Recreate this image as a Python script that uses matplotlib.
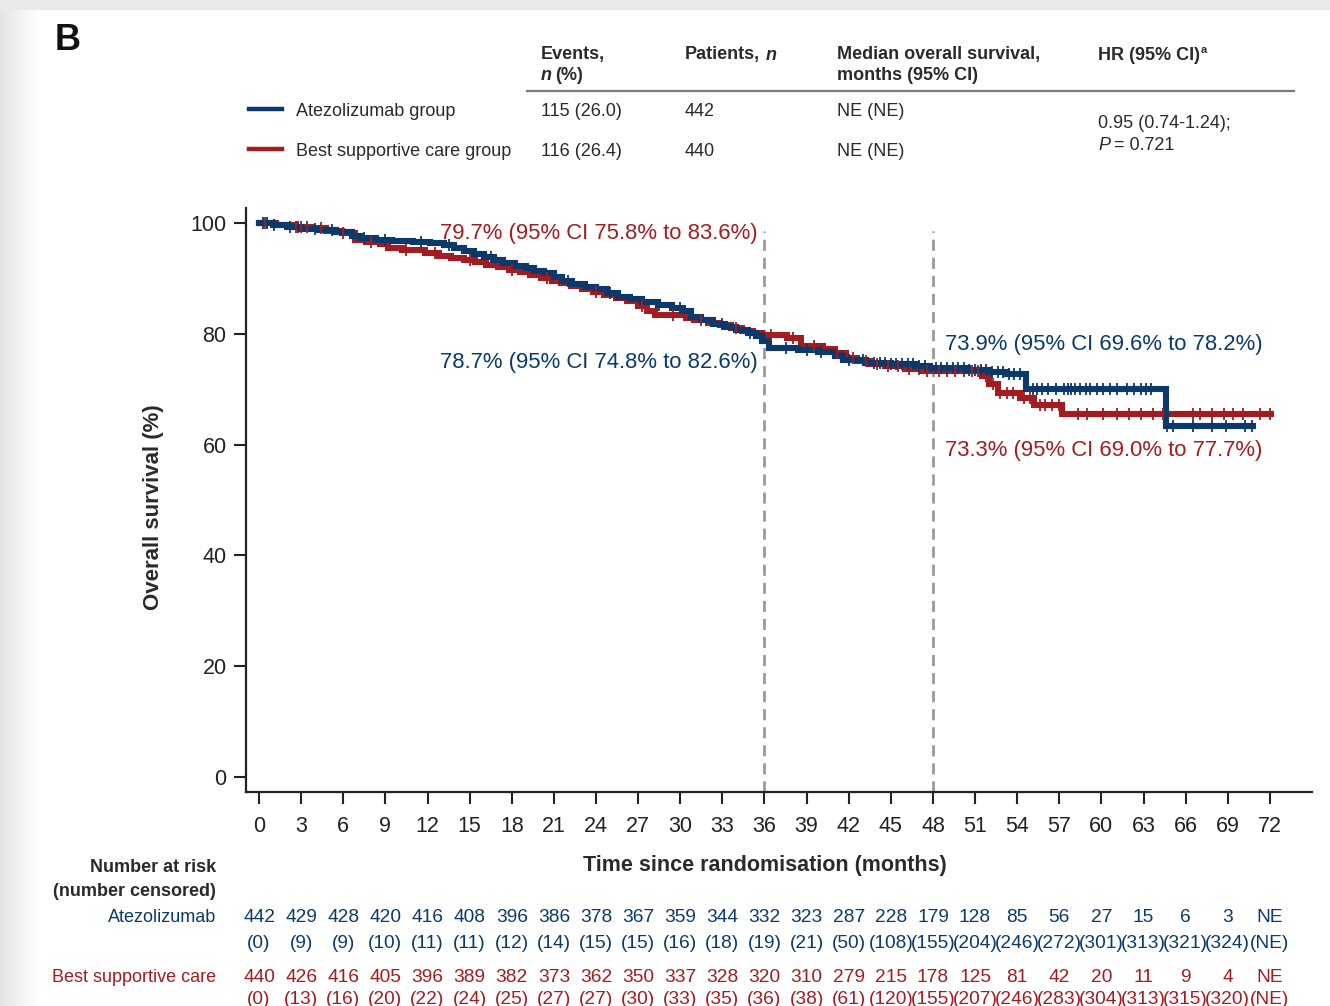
import numpy as np
import matplotlib
matplotlib.use("Agg")
import matplotlib.pyplot as plt
from matplotlib.transforms import blended_transform_factory
from matplotlib.lines import Line2D

plt.rcParams['font.family'] = ['Liberation Sans', 'DejaVu Sans']

BLUE = '#0b3a6a'
RED = '#a11d22'
TXT = '#2a2a2a'

# Kaplan-Meier step points (months, % surviving)
t_atezo = [0, 1.0, 2.0, 3.0, 4.2, 5.5, 6.6, 7.2, 8.3, 9.5, 11.0, 12.2, 13.2, 13.9, 14.6,
           15.3, 16.0, 16.7, 17.4, 18.2, 19.0, 19.6, 20.3, 21.0, 21.6, 22.3, 23.2, 24.0,
           24.8, 25.6, 26.4, 27.3, 28.4, 29.4, 30.2, 30.8, 31.5, 32.3, 33.2, 34.0, 34.8,
           35.4, 35.8, 36.3, 38.4, 39.8, 41.0, 41.6, 43.2, 45.0, 46.8, 47.8, 50.5, 52.0,
           53.3, 54.6, 64.6, 70.8]
s_atezo = [100, 99.6, 99.2, 99.0, 98.8, 98.4, 97.6, 97.3, 96.9, 96.8, 96.6, 96.4, 96.0,
           95.5, 95.0, 94.4, 93.9, 93.3, 92.7, 92.3, 91.9, 91.4, 90.9, 90.2, 89.5, 89.0,
           88.5, 88.1, 87.4, 86.7, 86.2, 85.7, 85.2, 84.6, 84.2, 83.0, 82.4, 81.8, 81.3,
           80.7, 80.2, 79.6, 78.7, 77.5, 77.0, 76.7, 75.9, 75.3, 74.8, 74.5, 74.1, 73.9,
           73.5, 73.1, 72.8, 70.0, 63.4, 63.4]

t_bsc = [0, 1.2, 2.5, 3.8, 4.8, 5.9, 6.8, 7.6, 8.6, 9.2, 10.2, 11.8, 12.8, 13.7, 14.6,
         15.4, 16.2, 17.0, 17.8, 18.6, 19.3, 20.1, 20.9, 21.5, 22.2, 23.0, 23.8, 24.6,
         25.4, 26.2, 27.0, 27.6, 28.2, 30.4, 31.0, 32.0, 32.8, 33.6, 34.4, 35.2, 35.8,
         37.6, 38.6, 40.2, 41.0, 41.8, 42.6, 43.5, 44.6, 46.0, 47.2, 51.5, 52.0, 52.6,
         54.2, 55.2, 57.2, 72.1]
s_bsc = [100, 99.6, 99.3, 99.1, 98.6, 98.2, 96.9, 96.6, 96.2, 95.5, 95.1, 94.6, 94.1,
         93.7, 93.3, 92.9, 92.5, 92.1, 91.6, 91.1, 90.6, 90.0, 89.5, 89.2, 88.7, 88.1,
         87.5, 87.0, 86.5, 86.0, 85.0, 84.2, 83.4, 82.9, 82.5, 82.0, 81.5, 81.0, 80.5,
         80.1, 79.7, 79.2, 77.8, 77.2, 76.5, 75.6, 75.0, 74.5, 74.1, 73.7, 73.3, 72.3,
         71.0, 69.3, 68.4, 67.1, 65.5, 65.5]

# Censoring times (months)
cens_atezo = [0.3, 0.6, 1.1, 2.2, 2.8, 4.0, 5.2, 7.5, 9.0, 11.5, 13.5, 16.5, 22.0, 25.0,
              28.5, 30.0, 33.0, 35.0, 37.5, 39.0, 40.0, 41.5, 42.0, 43.0, 43.8, 44.2,
              44.6, 45.0, 45.4, 45.8, 46.2, 46.6, 47.0, 47.4, 48.2, 48.6, 49.0, 49.4,
              49.8, 50.2, 50.6, 51.0, 51.4, 51.8, 52.2, 52.6, 53.0, 53.4, 53.8, 54.2,
              55.1, 55.4, 55.8, 56.2, 56.8, 57.3, 57.6, 57.8, 58.1, 58.5, 58.9, 59.2,
              59.7, 60.1, 60.6, 61.1, 61.8, 62.3, 62.8, 63.2, 63.5, 64.7, 65.1, 66.5,
              67.9, 68.9, 70.2, 70.7]
cens_bsc = [0.4, 2.6, 3.0, 3.4, 4.4, 6.0, 8.0, 10.5, 12.5, 15.0, 18.0, 20.5, 24.0, 27.3,
            29.5, 31.5, 34.0, 36.5, 38.0, 39.5, 41.2, 42.3, 43.2, 44.0, 44.8, 45.5,
            46.3, 47.0, 47.6, 48.4, 49.0, 49.6, 50.2, 50.8, 51.2, 51.8, 52.3, 52.8,
            53.3, 53.7, 54.5, 54.9, 55.6, 56.0, 56.5, 57.0, 58.3, 59.0, 60.1, 61.1,
            62.0, 62.8, 63.7, 64.4, 66.5, 67.0, 67.9, 68.7, 69.4, 70.1, 71.3, 72.0]

# Number at risk (number censored)
risk_months = list(range(0, 73, 3))
risk_atezo = ['442', '429', '428', '420', '416', '408', '396', '386', '378', '367', '359',
              '344', '332', '323', '287', '228', '179', '128', '85', '56', '27', '15', '6',
              '3', 'NE']
censored_atezo = ['(0)', '(9)', '(9)', '(10)', '(11)', '(11)', '(12)', '(14)', '(15)', '(15)',
                  '(16)', '(18)', '(19)', '(21)', '(50)', '(108)', '(155)', '(204)', '(246)',
                  '(272)', '(301)', '(313)', '(321)', '(324)', '(NE)']
risk_bsc = ['440', '426', '416', '405', '396', '389', '382', '373', '362', '350', '337',
            '328', '320', '310', '279', '215', '178', '125', '81', '42', '20', '11', '9',
            '4', 'NE']
censored_bsc = ['(0)', '(13)', '(16)', '(20)', '(22)', '(24)', '(25)', '(27)', '(27)', '(30)',
                '(33)', '(35)', '(36)', '(38)', '(61)', '(120)', '(155)', '(207)', '(246)',
                '(283)', '(304)', '(313)', '(315)', '(320)', '(NE)']

landmarks = [36, 48]

W, H = 1330, 1006
fig = plt.figure(figsize=(W / 100, H / 100), dpi=100)
fig.patch.set_facecolor('white')


def fx(x):
    return x / W


def fy(y):
    return 1 - y / H


# page shading: grey strip along the top and a soft shadow on the left edge
bg = fig.add_axes([0, 0, 1, 1], zorder=-10)
bg.set_axis_off()
cols = np.arange(W)
edge = np.clip(cols / 40.0, 0, 1) ** 0.8
shade = np.ones((H, W)) * (0.89 + 0.11 * edge[None, :])
shade[:10, :] = 0.915
bg.imshow(np.dstack([shade] * 3), extent=(0, 1, 0, 1), aspect='auto',
          interpolation='bilinear')
bg.set_xlim(0, 1)
bg.set_ylim(0, 1)

ax = fig.add_axes([fx(246), fy(792), fx(1312) - fx(246), fy(208) - fy(792)])
ax.set_xlim(-0.93, 75)
ax.set_ylim(-2.7, 102.7)

for side in ['top', 'right']:
    ax.spines[side].set_visible(False)
for side in ['left', 'bottom']:
    ax.spines[side].set_linewidth(1.6)
    ax.spines[side].set_color('#222222')

ax.set_xticks(risk_months)
ax.set_yticks([0, 20, 40, 60, 80, 100])
ax.tick_params(axis='both', direction='out', length=8.5, width=1.5, color='#222222',
               labelsize=15.5, labelcolor='#222222')
ax.tick_params(axis='x', pad=8.5)
ax.tick_params(axis='y', pad=5.5)

for m in landmarks:
    ax.plot([m, m], [-2.7, 98.6], color='#9a9a9a', lw=2.0, ls=(0, (4, 2.5)), zorder=1)


def survival_at(t, s, times):
    t = np.asarray(t)
    s = np.asarray(s)
    idx = np.searchsorted(t, times, side='right') - 1
    return s[idx]


for t, s, cens, col in [(t_bsc, s_bsc, cens_bsc, RED),
                        (t_atezo, s_atezo, cens_atezo, BLUE)]:
    ax.plot(t, s, drawstyle='steps-post', color=col, lw=4.4, solid_joinstyle='miter',
            zorder=3)
    ax.plot(cens, survival_at(t, s, cens), ls='none', marker='|', ms=8.5, mew=1.3,
            color=col, zorder=4)

ann = dict(fontsize=15.9, va='center')
ax.text(35.5, 98.1, '79.7% (95% CI 75.8% to 83.6%)', color=RED, ha='right', **ann)
ax.text(35.5, 74.8, '78.7% (95% CI 74.8% to 82.6%)', color=BLUE, ha='right', **ann)
ax.text(48.86, 78.0, '73.9% (95% CI 69.6% to 78.2%)', color=BLUE, ha='left', **ann)
ax.text(48.86, 58.9, '73.3% (95% CI 69.0% to 77.7%)', color=RED, ha='left', **ann)

fig.text(fx(765), fy(865), 'Time since randomisation (months)', fontsize=15.5,
         fontweight='bold', color=TXT, ha='center', va='center')
fig.text(fx(153), fy(507), 'Overall survival (%)', fontsize=16, fontweight='bold',
         color=TXT, ha='center', va='center', rotation=90)

# number-at-risk table
tr = blended_transform_factory(ax.transData, fig.transFigure)
fig.text(fx(216), fy(868), 'Number at risk', fontsize=13, fontweight='bold', color=TXT,
         ha='right', va='center')
fig.text(fx(216), fy(891), '(number censored)', fontsize=13, fontweight='bold',
         color=TXT, ha='right', va='center')
fig.text(fx(216), fy(918), 'Atezolizumab', fontsize=13, color=BLUE, ha='right',
         va='center')
fig.text(fx(216), fy(977), 'Best supportive care', fontsize=13, color=RED, ha='right',
         va='center')
rk = dict(transform=tr, fontsize=13.8, ha='center', va='center')
for m, ra, ca, rb, cb in zip(risk_months, risk_atezo, censored_atezo, risk_bsc,
                             censored_bsc):
    fig.text(m, fy(918), ra, color=BLUE, **rk)
    fig.text(m, fy(943), ca, color=BLUE, **rk)
    fig.text(m, fy(977), rb, color=RED, **rk)
    fig.text(m, fy(999), cb, color=RED, **rk)

# panel letter
fig.text(fx(55), fy(40), 'B', fontsize=26, fontweight='bold', color='#111111',
         ha='left', va='center')

# summary table above the plot
hkw = dict(fontsize=13, fontweight='bold', color=TXT, ha='left', va='center')
fig.text(fx(541), fy(55), 'Events,', **hkw)
fig.text(fx(541), fy(76), 'n', style='italic', **hkw)
fig.text(fx(555), fy(76), '(%)', **hkw)
fig.text(fx(685), fy(55), 'Patients,', **hkw)
fig.text(fx(766), fy(55), 'n', style='italic', **hkw)
fig.text(fx(837), fy(55), 'Median overall survival,', **hkw)
fig.text(fx(837), fy(76), 'months (95% CI)', **hkw)
fig.text(fx(1098), fy(55), 'HR (95% CI)', **hkw)
fig.text(fx(1201), fy(50), 'a', fontsize=8, fontweight='bold', color=TXT, ha='left',
         va='center')
fig.add_artist(Line2D([fx(527), fx(1294)], [fy(91), fy(91)], color='#7a7a7a', lw=1.6))

rkw = dict(fontsize=13, color=TXT, ha='left', va='center')
fig.add_artist(Line2D([fx(249), fx(282)], [fy(109), fy(109)], color=BLUE, lw=3.2))
fig.add_artist(Line2D([fx(249), fx(282)], [fy(149), fy(149)], color=RED, lw=3.2))
fig.text(fx(296), fy(111), 'Atezolizumab group', **rkw)
fig.text(fx(296), fy(151), 'Best supportive care group', **rkw)
fig.text(fx(541), fy(111), '115 (26.0)', **rkw)
fig.text(fx(541), fy(151), '116 (26.4)', **rkw)
fig.text(fx(685), fy(111), '442', **rkw)
fig.text(fx(685), fy(151), '440', **rkw)
fig.text(fx(837), fy(111), 'NE (NE)', **rkw)
fig.text(fx(837), fy(151), 'NE (NE)', **rkw)
fig.text(fx(1098), fy(123), '0.95 (0.74-1.24);', **rkw)
fig.text(fx(1098), fy(145), 'P', style='italic', **rkw)
fig.text(fx(1114), fy(145), '= 0.721', **rkw)

fig.savefig('out.png', dpi=100, facecolor=fig.get_facecolor())
